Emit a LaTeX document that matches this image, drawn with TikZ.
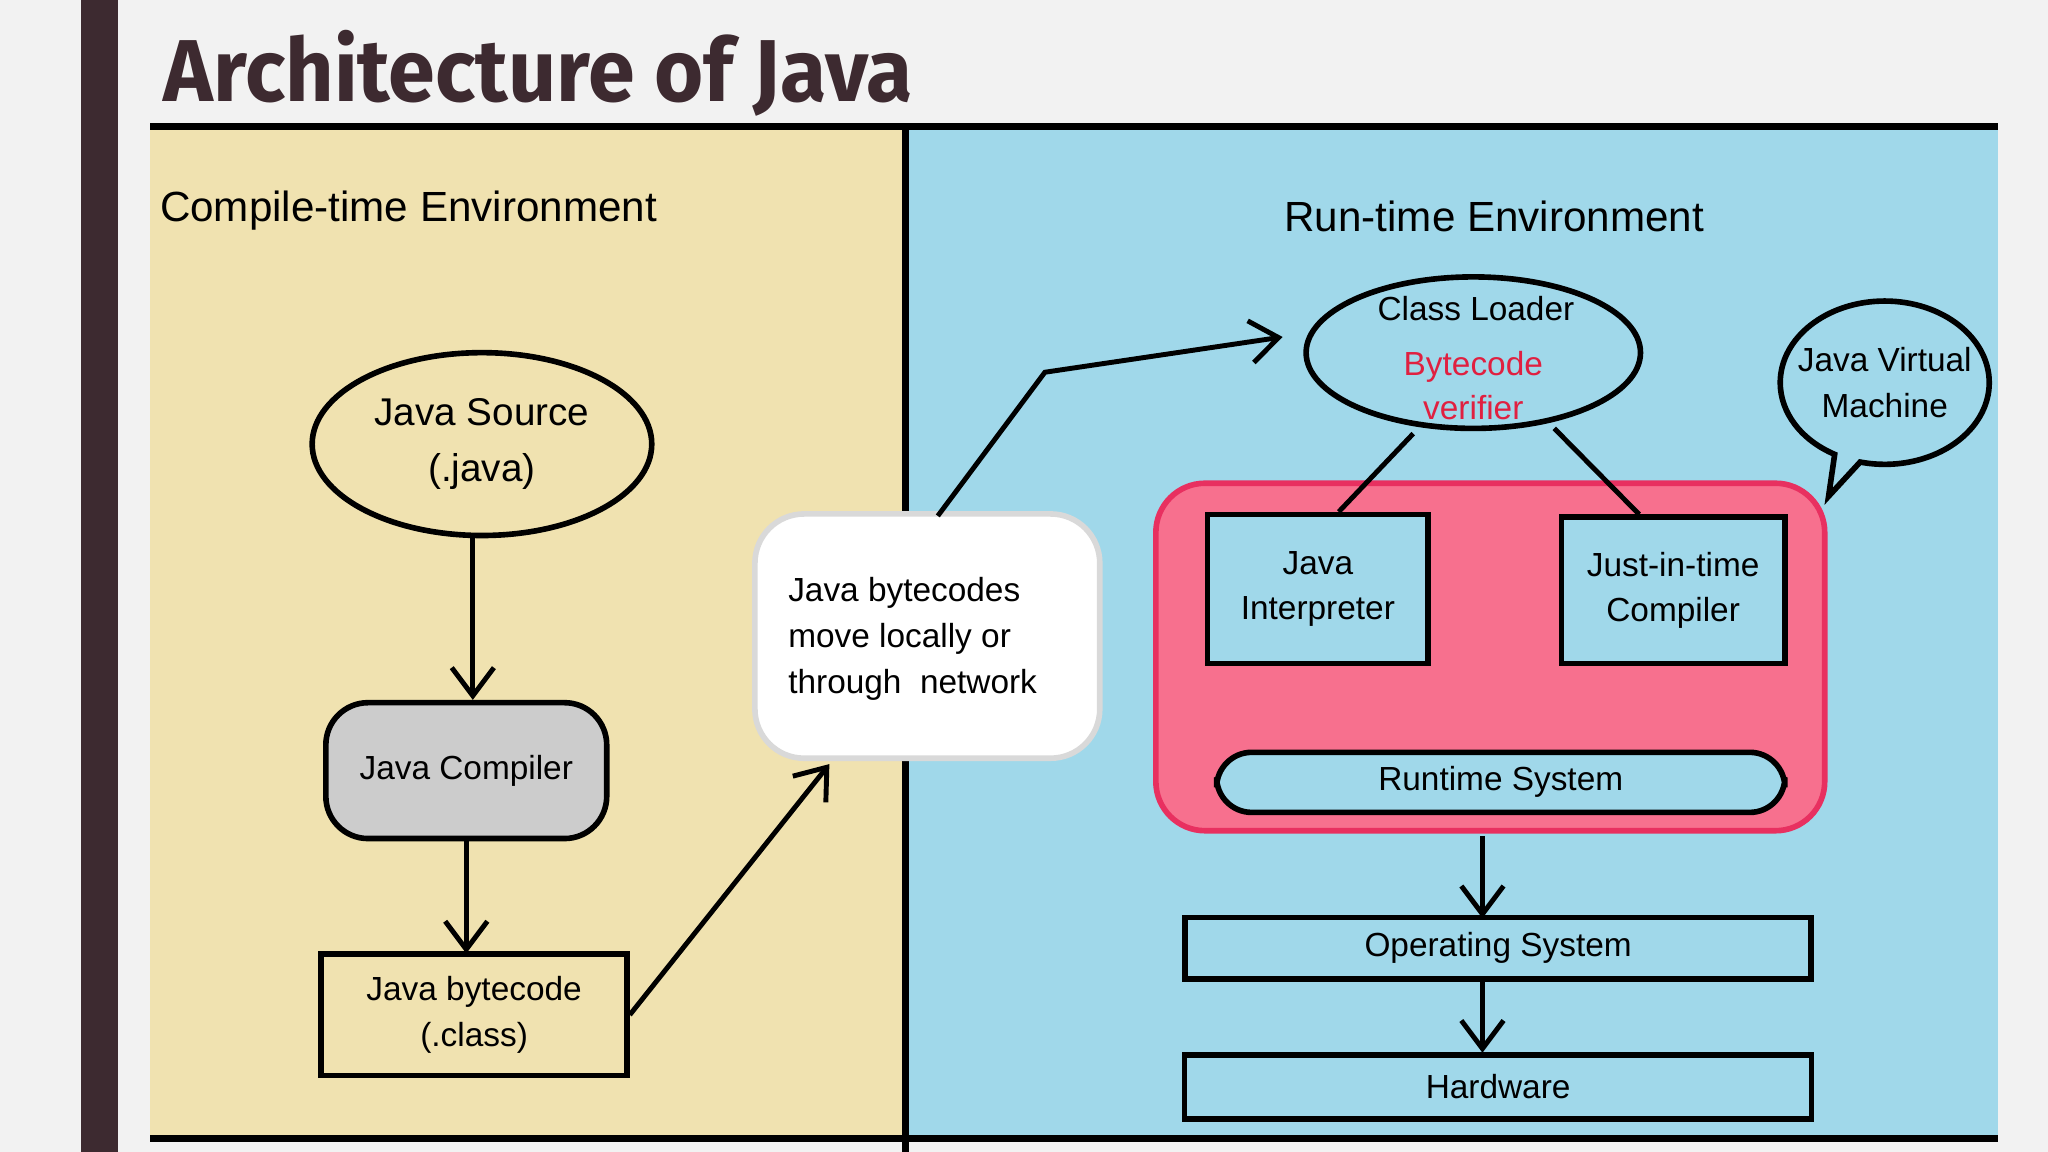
\documentclass[tikz,border=0pt]{standalone}
\usepackage{fontspec}
\setmainfont{Liberation Sans}
\newfontfamily\titlefont{Fira Sans}
\usetikzlibrary{arrows.meta,shapes.geometric,shapes.callouts}
\definecolor{maroon}{HTML}{3D2A30}
\definecolor{beige}{HTML}{F0E2B0}
\definecolor{sky}{HTML}{A0D8EA}
\definecolor{pinkf}{HTML}{F7708E}
\definecolor{pinkb}{HTML}{E83060}
\definecolor{redt}{HTML}{E02040}
\tikzset{
 box/.style={draw=black,line width=1.6pt,align=center,font=\fontsize{9.5}{13}\selectfont,inner sep=0pt},
 arr/.style={line width=1.4pt,-{Straight Barb[length=8pt,width=12pt,line width=1.4pt]}},
 ln/.style={line width=1.4pt},
 lbl/.style={font=\fontsize{9.5}{13}\selectfont,align=center}
}
\begin{document}
\begin{tikzpicture}[x=0.013061cm,y=-0.013061cm]
\useasboundingbox (0,0) rectangle (1568,882);
\fill[gray!10] (0,0) rectangle (1568,882);
\fill[maroon] (62,0) rectangle (90,882);
\node[anchor=base west,inner sep=0,text=maroon,font=\titlefont\bfseries\fontsize{25}{28}\selectfont,xscale=0.96] (title) at (125,78) {Architecture of Java};
\fill[beige] (115,97) rectangle (693,872);
\fill[sky] (693,97) rectangle (1530,872);
\draw[line width=2pt] (115,97) -- (1530,97);
\draw[line width=2pt] (115,872) -- (1530,872);
\draw[line width=2pt] (693,97) -- (693,882);
\node[anchor=west,inner sep=0pt,font=\fontsize{12}{14}\selectfont] (cte) at (122,161) {Compile-time Environment};
\node[font=\fontsize{12}{14}\selectfont] (rte) at (1144,166) {Run-time Environment};
% left
\draw[line width=1.6pt,fill=beige] (369,340) ellipse [x radius=130,y radius=70];
\node[lbl,font=\fontsize{11}{16}\selectfont] (src) at (369,340) {Java Source\\(.java)};
\node[box,rounded corners=12pt,fill=gray!40,minimum width=215*0.3717pt,minimum height=104*0.3717pt] (comp) at (357,590) {Java Compiler};
\node[box,fill=beige,minimum width=234*0.3717pt,minimum height=93*0.3717pt] (bc) at (363,777) {Java bytecode\\(.class)};
\node[draw=gray!30,line width=1.6pt,rounded corners=14pt,fill=white,minimum width=264*0.3717pt,minimum height=187*0.3717pt,inner sep=0pt] (net) at (710,487) {};
\node[anchor=west,align=left,inner sep=0pt,font=\fontsize{9.5}{13}\selectfont] (nett) at (603,489) {Java bytecodes\\move locally or\\through\ \ network};
\coordinate (srcb) at (362,410);
\draw[arr] (srcb) -- (comp.north -| srcb);
\draw[arr] (357,642) -- (357,730);
\draw[arr] (bc.east) -- (635,585);
\coordinate (bend) at (800,285);
% right
\draw[line width=1.6pt,fill=sky] (1128,270) ellipse [x radius=128,y radius=58];
\node[lbl] (clt) at (1130,236) {Class Loader};
\node[lbl,text=redt,font=\fontsize{9.5}{12.5}\selectfont] (bv) at (1128,295) {Bytecode\\verifier};
\draw[arr] (718,395) -- (bend) -- (982,258);
\node[ellipse callout,draw=black,line width=1.6pt,fill=sky,minimum width=160*0.3717pt,minimum height=125*0.3717pt,callout absolute pointer={(1400,380)},lbl,inner sep=-4pt] (jvm) at (1443,293) {Java Virtual\\Machine};
\node[draw=pinkb,line width=1.6pt,fill=pinkf,rounded corners=14pt,minimum width=512*0.3717pt,minimum height=266*0.3717pt] (pink) at (1141,503) {};
\node[box,fill=sky,minimum width=169*0.3717pt,minimum height=114*0.3717pt] (interp) at (1009,451) {Java\\Interpreter};
\node[box,fill=sky,minimum width=171*0.3717pt,minimum height=112*0.3717pt] (jit) at (1281,452) {Just-in-time\\Compiler};
\node[box,fill=sky,rounded corners=10pt,minimum width=435*0.3717pt,minimum height=46*0.3717pt] (rs) at (1149,599) {Runtime System};
\coordinate (c1) at (1082,332); \coordinate (c2) at (1190,328);
\draw[ln] (c1) -- (interp.north -| 1025,0);
\draw[ln] (c2) -- (jit.north -| 1255,0);
\node[box,fill=sky,minimum width=479*0.3717pt,minimum height=47*0.3717pt] (os) at (1147,726) {Operating System};
\node[box,fill=sky,minimum width=480*0.3717pt,minimum height=49*0.3717pt] (hw) at (1147,832) {Hardware};
\draw[arr] (1135,640) -- (1135,703);
\draw[arr] (1135,750) -- (1135,806);
\end{tikzpicture}
\end{document}
